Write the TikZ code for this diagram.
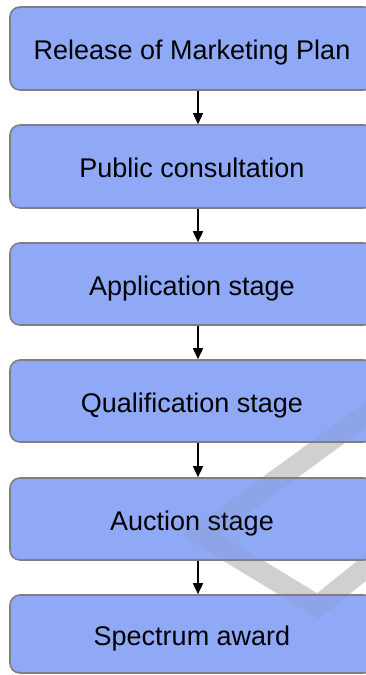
\documentclass[tikz,border=0pt]{standalone}
\usepackage{fontspec}
\setmainfont{Liberation Sans}
\usetikzlibrary{arrows.meta}
\definecolor{stagefill}{HTML}{90A9F6}
\definecolor{stageline}{HTML}{7F7F7F}
\definecolor{markgray}{HTML}{808080}
\begin{document}
\begin{tikzpicture}[x=1pt,y=-1pt,
  stagebox/.style={draw=stageline, line width=1.6pt, fill=stagefill,
    rounded corners=10pt, minimum width=364pt, inner sep=0pt,
    font=\fontsize{27}{32}\selectfont, text height=22pt, text depth=0pt},
  flow/.style={line width=1.5pt, -{Triangle[width=10pt,length=11pt]}},
  watermark/.style={draw=markgray, line width=21pt, line join=miter}]
\useasboundingbox (0,0) rectangle (366,675);
\clip (0,0) rectangle (366,675);

% watermark strokes, seen in the gaps between the stages
\draw[watermark, draw opacity=0.3] (434,365) -- (201,535) -- (318,606) -- (400,540);

% process stages, top to bottom
\node[stagebox, minimum height=83pt] (s1) at (192,48.5) {Release of Marketing Plan};
\node[stagebox, minimum height=83pt] (s2) at (192,166.5) {Public consultation};
\node[stagebox, minimum height=82pt] (s3) at (192,284) {Application stage};
\node[stagebox, minimum height=82pt] (s4) at (192,401) {Qualification stage};
\node[stagebox, minimum height=82pt] (s5) at (192,519) {Auction stage};
\node[stagebox, minimum height=78pt] (s6) at (192,634) {Spectrum award};

% connectors between consecutive stages
\foreach \a/\b in {s1/s2, s2/s3, s3/s4, s4/s5, s5/s6}
  \draw[flow] ([xshift=6pt]\a.south) -- ([xshift=6pt]\b.north);

% the same strokes, faint over the stages
\draw[watermark, draw opacity=0.1] (434,365) -- (201,535) -- (318,606) -- (400,540);
\end{tikzpicture}
\end{document}
